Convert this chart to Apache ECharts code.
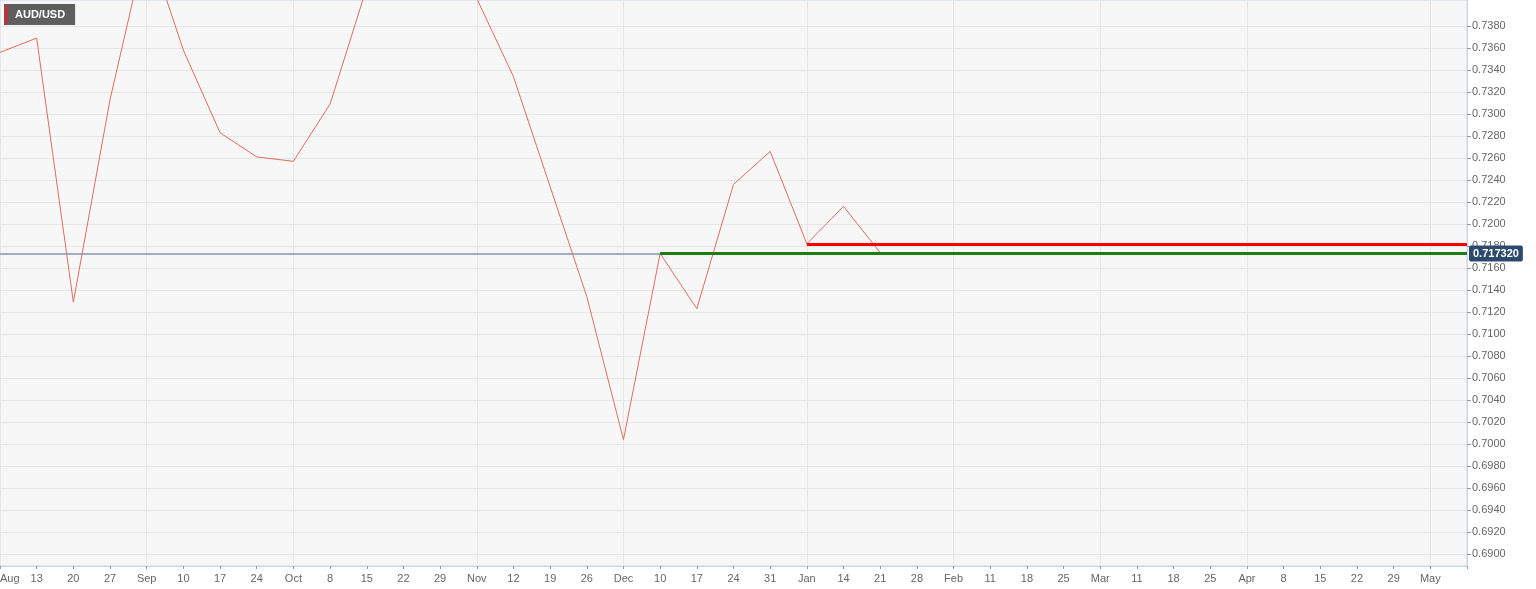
<!DOCTYPE html>
<html><head><meta charset="utf-8">
<script src="https://cdn.jsdelivr.net/npm/echarts@6/dist/echarts.min.js"></script>
<style>html,body{margin:0;padding:0;background:#fff}#c{width:1536px;height:589px}</style>
</head><body><div id="c"></div>
<script>
const weeks = ['2018-08-06','2018-08-13','2018-08-20','2018-08-27','2018-09-03','2018-09-10','2018-09-17','2018-09-24',
  '2018-10-01','2018-10-08','2018-10-15','2018-10-22','2018-10-29','2018-11-05','2018-11-12','2018-11-19','2018-11-26',
  '2018-12-03','2018-12-10','2018-12-17','2018-12-24','2018-12-31','2019-01-07','2019-01-14','2019-01-21','2019-01-28',
  '2019-02-04','2019-02-11','2019-02-18','2019-02-25','2019-03-04','2019-03-11','2019-03-18','2019-03-25',
  '2019-04-01','2019-04-08','2019-04-15','2019-04-22','2019-04-29','2019-05-06','2019-05-13'];
const weekLabels = ['Aug','13','20','27','Sep','10','17','24','Oct','8','15','22','29','Nov','12','19','26',
  'Dec','10','17','24','31','Jan','14','21','28','Feb','11','18','25','Mar','11','18','25',
  'Apr','8','15','22','29','May',''];
const audusd = [0.7356,0.7369,0.7129,0.7313,0.7458,0.7358,0.7283,0.7261,0.7257,0.7309,0.7415,0.7450,0.7440,0.7405,
  0.7334,0.7234,0.7134,0.7004,0.71732,0.7123,0.7236,0.7266,0.7182,0.7216,0.7174];
const yTicks = [0.6900,0.6920,0.6940,0.6960,0.6980,0.7000,0.7020,0.7040,0.7060,0.7080,0.7100,0.7120,0.7140,0.7160,
  0.7180,0.7200,0.7220,0.7240,0.7260,0.7280,0.7300,0.7320,0.7340,0.7360,0.7380];
const currentPrice = 0.71732;
const currentLabel = '0.717320';
const greenStart = '2018-12-10';
const redLevel = 0.7182;
const redStart = '2019-01-07';
const seriesName = 'AUD/USD';

const chart = echarts.init(document.getElementById('c'), null, {renderer:'canvas'});
const font = 'Liberation Sans, Arial, sans-serif';
const firstWeek = weeks[0];
const lastWeek = weeks[weeks.length-1];
chart.setOption({
  animation:false,
  backgroundColor:'#ffffff',
  textStyle:{fontFamily:font},
  grid:{left:0, top:0, right:69, bottom:23, show:true, backgroundColor:'#f7f7f7', borderColor:'#ccd6eb', borderWidth:1,
    outerBoundsMode:'none', containLabel:false},
  legend:{
    left:4, top:4, backgroundColor:'#5e5e5e', padding:[1,10,1,1], itemWidth:2, itemHeight:19, itemGap:0,
    icon:'rect', selectedMode:false,
    data:[{name:seriesName, itemStyle:{color:'#ff1a1a'}}],
    textStyle:{color:'#ffffff', fontWeight:'bold', fontSize:11, fontFamily:font, padding:[0,0,0,3]}
  },
  xAxis:{
    type:'category', data:weeks, boundaryGap:false,
    axisLine:{lineStyle:{color:'#ccd6eb'}},
    axisTick:{show:true, length:3, lineStyle:{color:'#999999'}, interval:0},
    axisLabel:{interval:0, color:'#666666', fontSize:11, margin:7, alignMinLabel:'left',
      formatter:(v,i)=>weekLabels[i]},
    splitLine:{show:true, lineStyle:{color:'#e6e6e6', width:1},
      interval:(i)=>isNaN(Number(weekLabels[i])) && weekLabels[i] !== '' && i>0}
  },
  yAxis:{
    type:'value', position:'right', min:0.688909, max:0.740364, scale:true,
    axisLine:{show:true, lineStyle:{color:'#ccd6eb'}},
    axisTick:{show:true, length:4, lineStyle:{color:'#999999'}, customValues:yTicks},
    axisLabel:{color:'#666666', fontSize:11, margin:5, padding:[3,0,0,0], customValues:yTicks, formatter:v=>v.toFixed(4)},
    splitLine:{show:true, lineStyle:{color:'#e6e6e6', width:1}}
  },
  series:[{
    name:seriesName, type:'line', data:audusd, showSymbol:false, symbol:'none', clip:true,
    lineStyle:{color:'#e06c5e', width:1}, itemStyle:{color:'#e06c5e'},
    markLine:{
      silent:true, symbol:'none', animation:false,
      data:[
        [{coord:[firstWeek, currentPrice], lineStyle:{color:'#8696ab', width:1.5, type:'solid'},
          label:{show:true, position:'end', formatter:currentLabel, color:'#ffffff', fontWeight:'bold', fontSize:11,
            backgroundColor:'#2c4a6e', padding:[3,4,2,4], distance:2, borderRadius:2}},
         {coord:[lastWeek, currentPrice]}],
        [{coord:[greenStart, currentPrice], lineStyle:{color:'#1f7a12', width:3, type:'solid'}, label:{show:false}},
         {coord:[lastWeek, currentPrice]}],
        [{coord:[redStart, redLevel], lineStyle:{color:'#ff0000', width:3, type:'solid'}, label:{show:false}},
         {coord:[lastWeek, redLevel]}]
      ]
    }
  }]
});
</script></body></html>
